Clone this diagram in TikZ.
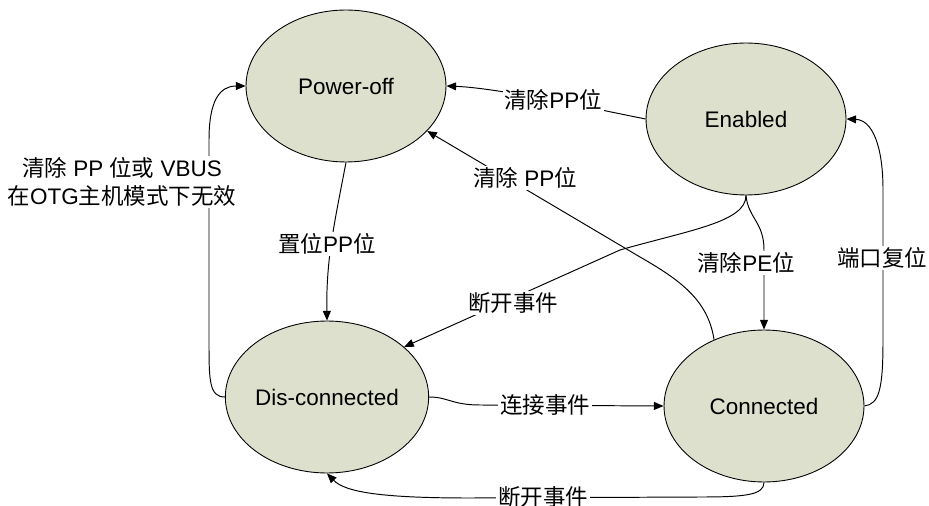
\documentclass[tikz,border=0pt]{standalone}
\usepackage{fontspec}
\setmainfont{Liberation Sans}
\newfontfamily\cjk{Noto Sans CJK SC}
\usepackage{tikz}
\usetikzlibrary{shapes.geometric, arrows.meta, positioning}
\definecolor{statefill}{RGB}{221, 224, 204}

\begin{document}
\begin{tikzpicture}[x=0.02cm, y=-0.02cm,
    state/.style={ellipse, draw, line width=0.5pt, fill=statefill, minimum width=4cm, minimum height=3.04cm, inner sep=0pt, font=\fontsize{12.8}{15.5}\selectfont},
    trans/.style={-{Triangle[length=5.5pt, width=4.5pt]}, line width=0.55pt},
    lbl/.style={fill=white, inner sep=1pt, font=\fontsize{12.8}{15.9}\selectfont, align=center}]
    \useasboundingbox (0,0) rectangle (929,506);

    % States
    \node[state] (poweroff) at (346,86) {Power-off};
    \node[state] (enabled) at (746,119) {Enabled};
    \node[state] (disconn) at (327,397) {Dis-connected};
    \node[state] (conn) at (764,406) {Connected};

    % Transitions
    \draw[trans] (poweroff.south) .. controls (334,225) and (326,260) .. (disconn.north);
    \draw[trans] (disconn.west) .. controls (209,397) and (209,380) .. (209,340) -- (209,140) .. controls (209,100) and (220,86) .. (poweroff.west);
    \draw[trans] (enabled.west) .. controls (610,112) and (500,88) .. (poweroff.east);
    \draw[trans] (conn.127) .. controls (708,300) and (680,280) .. (640,257) -- (poweroff.-29);
    \draw[trans] (enabled.south) .. controls (746,222) and (690,230) .. (620,250) -- (disconn.33);
    \draw[trans] (enabled.south) .. controls (748,218) and (764,222) .. (764,250) -- (conn.north);
    \draw[trans] (disconn.east) .. controls (448,397) and (452,405) .. (480,405) -- (conn.west);
    \draw[trans] (conn.south) .. controls (764,495) and (745,497) .. (700,497) -- (470,498) .. controls (380,498) and (345,492) .. (disconn.south);
    \draw[trans] (conn.east) .. controls (879,404) and (883,390) .. (883,340) -- (883,190) .. controls (883,145) and (872,120) .. (enabled.east);

    % Labels
    \node[lbl] (offlbl) at (122,182) {{\cjk 清除} PP {\cjk 位或} VBUS\\{\cjk 在}OTG{\cjk 主机模式下无效}};
    \node[lbl] (setlbl) at (327,244) {{\cjk 置位}PP{\cjk 位}};
    \node[lbl] (clrlbl) at (553,100) {{\cjk 清除}PP{\cjk 位}};
    \node[lbl] (clrlbl2) at (525,178) {{\cjk 清除} PP{\cjk 位}};
    \node[lbl] (dislbl) at (513,303) {{\cjk 断开事件}};
    \node[lbl] (pelbl) at (746,263) {{\cjk 清除}PE{\cjk 位}};
    \node[lbl] (rstlbl) at (882,258) {{\cjk 端口复位}};
    \node[lbl] (conlbl) at (545,405) {{\cjk 连接事件}};
    \node[lbl] (dislbl2) at (543,497) {{\cjk 断开事件}};

\end{tikzpicture}
\end{document}
